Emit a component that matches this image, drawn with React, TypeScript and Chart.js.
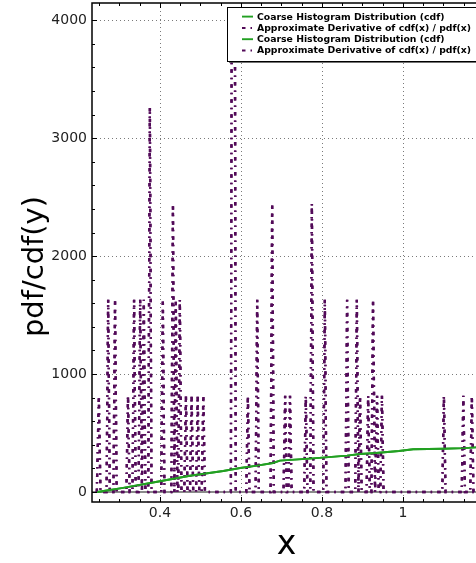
import React, { useEffect, useRef } from 'react';
import { Chart, registerables } from 'chart.js';

Chart.register(...registerables);

// ---- data ----
const derivX = [
  0.244, 0.249, 0.253,
  0.268, 0.272, 0.276,
  0.285, 0.289, 0.293,
  0.317, 0.321, 0.325,
  0.332, 0.336, 0.34,
  0.347, 0.351, 0.3555, 0.36, 0.364,
  0.371, 0.375, 0.379,
  0.403, 0.407, 0.411,
  0.428, 0.432, 0.4355, 0.439, 0.443, 0.445, 0.449, 0.453,
  0.46, 0.464, 0.468,
  0.474, 0.478, 0.482,
  0.489, 0.493, 0.497,
  0.503, 0.507, 0.511,
  0.575, 0.577, 0.585, 0.587,
  0.613, 0.617, 0.621,
  0.636, 0.64, 0.644,
  0.673, 0.677, 0.681,
  0.705, 0.709, 0.713,
  0.717, 0.721, 0.725,
  0.756, 0.76, 0.764,
  0.771, 0.775, 0.779,
  0.803, 0.807, 0.811,
  0.858, 0.862, 0.866,
  0.882, 0.886, 0.89, 0.894, 0.898,
  0.91, 0.914, 0.918,
  0.922, 0.926, 0.931, 0.936, 0.94,
  0.944, 0.948, 0.952,
  1.097, 1.101, 1.105,
  1.145, 1.149, 1.153,
  1.166, 1.17, 1.174,
  1.25,
];
const derivY = [
  0, 815, 0,
  0, 1630, 0,
  0, 1630, 0,
  0, 815, 0,
  0, 1630, 0,
  0, 1630, 0, 1630, 0,
  0, 3260, 0,
  0, 1630, 0,
  0, 2445, 0, 1630, 0, 0, 1630, 0,
  0, 815, 0,
  0, 815, 0,
  0, 815, 0,
  0, 815, 0,
  0, 4075, 4075, 0,
  0, 815, 0,
  0, 1630, 0,
  0, 2445, 0,
  0, 815, 0,
  0, 815, 0,
  0, 815, 0,
  0, 2445, 0,
  0, 1630, 0,
  0, 1630, 0,
  0, 1630, 0, 815, 0,
  0, 815, 0,
  0, 1630, 0, 815, 0,
  0, 815, 0,
  0, 815, 0,
  0, 815, 0,
  0, 815, 0,
  0,
];
const cdfX = [0.245, 0.309, 0.393, 0.474, 0.556, 0.598, 0.64, 0.679, 0.696, 0.778, 0.862, 0.894, 0.933, 0.99, 1.025, 1.099, 1.151, 1.18, 1.25];
const cdfY = [0, 35, 87, 138, 178, 203, 223, 246, 266, 285, 308, 322, 331, 348, 362, 367, 372, 378, 385];

const seriesLabels = [
  'Coarse Histogram Distribution (cdf)',
  'Approximate Derivative of cdf(x) / pdf(x)',
  'Coarse Histogram Distribution (cdf)',
  'Approximate Derivative of cdf(x) / pdf(x)',
];
const xTitle = 'x';
const yTitle = 'pdf/cdf(y)';
const xTickValues = [0.4, 0.6, 0.8, 1];
const yTickValues = [0, 1000, 2000, 3000, 4000];
const xRange = [0.2321, 1.2];
const yRange = [-85, 4147];
const xMinorStep = 0.05;
const yMinorStep = 200;

// ---- style ----
const W = 500;
const H = 563;
const AREA = { left: 92, top: 3, right: 484, bottom: 502 };
const GREEN = '#22a022';
const PURPLE = '#520a58';
const DASHDOT = [3.5, 5, 1.5, 5];
const FONT = 'DejaVu Sans';

const decorPlugin = {
  id: 'decor',
  beforeDatasetsDraw(chart: any) {
    const { ctx, chartArea: a, scales } = chart;
    const xs = scales.x;
    const ys = scales.y;
    ctx.save();
    ctx.strokeStyle = '#7a7a7a';
    ctx.lineWidth = 1;
    ctx.setLineDash([1, 3]);
    xs.ticks.forEach((t: any) => {
      const px = Math.round(xs.getPixelForValue(t.value)) + 0.5;
      ctx.beginPath();
      ctx.moveTo(px, a.top);
      ctx.lineTo(px, a.bottom);
      ctx.stroke();
    });
    ys.ticks.forEach((t: any) => {
      if (t.value === 0) return;
      const py = Math.round(ys.getPixelForValue(t.value)) + 0.5;
      ctx.beginPath();
      ctx.moveTo(a.left, py);
      ctx.lineTo(a.right, py);
      ctx.stroke();
    });
    ctx.setLineDash([]);
    const y0 = ys.getPixelForValue(0);
    ctx.strokeStyle = '#8a8a8a';
    ctx.lineWidth = 2.2;
    ctx.beginPath();
    ctx.moveTo(a.left, y0);
    ctx.lineTo(a.right, y0);
    ctx.stroke();
    ctx.restore();
  },
  afterDatasetsDraw(chart: any) {
    const { ctx, chartArea: a, scales } = chart;
    const xs = scales.x;
    const ys = scales.y;
    ctx.save();
    ctx.strokeStyle = '#000';
    ctx.lineWidth = 1;
    const majorLen = 5;
    const minorLen = 3;
    const xStart = Math.ceil(xRange[0] / xMinorStep);
    for (let k = xStart; k * xMinorStep <= xRange[1] + 1e-9; k++) {
      const v = k * xMinorStep;
      const len = k % 4 === 0 ? majorLen : minorLen;
      const px = Math.round(xs.getPixelForValue(v)) + 0.5;
      ctx.beginPath();
      ctx.moveTo(px, a.bottom);
      ctx.lineTo(px, a.bottom - len);
      ctx.moveTo(px, a.top);
      ctx.lineTo(px, a.top + len);
      ctx.stroke();
    }
    const yStart = Math.ceil(yRange[0] / yMinorStep);
    for (let k = yStart; k * yMinorStep <= yRange[1]; k++) {
      const v = k * yMinorStep;
      const len = k % 5 === 0 ? majorLen : minorLen;
      const py = Math.round(ys.getPixelForValue(v)) + 0.5;
      ctx.beginPath();
      ctx.moveTo(a.left, py);
      ctx.lineTo(a.left + len, py);
      ctx.moveTo(a.right, py);
      ctx.lineTo(a.right - len, py);
      ctx.stroke();
    }
    ctx.lineWidth = 1.5;
    ctx.strokeRect(a.left, a.top, a.right - a.left, a.bottom - a.top);
    ctx.restore();
  },
  afterDraw(chart: any) {
    const { ctx } = chart;
    ctx.save();
    const lx = 227;
    const ly = 7;
    const lw = 262;
    const lh = 54;
    ctx.fillStyle = 'rgba(0,0,0,0.55)';
    ctx.fillRect(lx + 2, ly + 2, lw, lh);
    ctx.fillStyle = '#fff';
    ctx.fillRect(lx, ly, lw, lh);
    ctx.strokeStyle = '#000';
    ctx.lineWidth = 1;
    ctx.strokeRect(lx + 0.5, ly + 0.5, lw, lh);
    ctx.font = `bold 9.3px "${FONT}"`;
    ctx.textBaseline = 'middle';
    ctx.textAlign = 'left';
    chart.data.datasets.forEach((ds: any, i: number) => {
      const cy = 16.6 + i * 11.3;
      ctx.strokeStyle = ds.borderColor;
      ctx.lineWidth = Math.min(ds.borderWidth, 2);
      ctx.setLineDash(ds.borderDash || []);
      ctx.beginPath();
      ctx.moveTo(242, cy);
      ctx.lineTo(253, cy);
      ctx.stroke();
      ctx.setLineDash([]);
      ctx.fillStyle = '#000';
      ctx.fillText(ds.label, 257, cy + 0.5);
    });
    ctx.fillStyle = '#000';
    ctx.textAlign = 'center';
    ctx.textBaseline = 'alphabetic';
    ctx.font = `33px "${FONT}"`;
    ctx.fillText(xTitle, 286.5, 554);
    ctx.translate(43, 266.5);
    ctx.rotate(-Math.PI / 2);
    ctx.font = `29px "${FONT}"`;
    ctx.fillText(yTitle, 0, 0);
    ctx.restore();
  },
};

export default function App() {
  const ref = useRef<HTMLCanvasElement | null>(null);
  useEffect(() => {
    if (!ref.current) return;
    const cdfPts = cdfX.map((x, i) => ({ x, y: cdfY[i] }));
    const derivPts = derivX.map((x, i) => ({ x, y: derivY[i] }));
    const mk = (i: number) =>
      i % 2 === 0
        ? { label: seriesLabels[i], data: cdfPts, borderColor: GREEN, borderWidth: 1.9, pointRadius: 0, fill: false, tension: 0 }
        : { label: seriesLabels[i], data: derivPts, borderColor: PURPLE, borderWidth: 2.4, borderDash: DASHDOT, borderCapStyle: 'butt', pointRadius: 0, fill: false, tension: 0 };
    const chart = new Chart(ref.current, {
      type: 'line',
      data: { datasets: [0, 1, 2, 3].map(mk) as any },
      options: {
        responsive: false,
        animation: false,
        devicePixelRatio: 1,
        layout: { padding: { left: 0, top: AREA.top, right: W - AREA.right, bottom: 0 } },
        plugins: { legend: { display: false }, tooltip: { enabled: false } },
        scales: {
          x: {
            type: 'linear',
            min: xRange[0],
            max: xRange[1],
            grid: { display: false, drawTicks: false },
            border: { display: false },
            afterBuildTicks: (s: any) => {
              s.ticks = xTickValues.map((value) => ({ value }));
            },
            afterFit: (s: any) => {
              s.height = H - AREA.bottom;
              s.paddingLeft = 0;
              s.paddingRight = 0;
            },
            ticks: {
              autoSkip: false,
              maxRotation: 0,
              padding: 3,
              color: '#222',
              font: { family: FONT, size: 14 },
              callback: (v: any) => String(Math.round(Number(v) * 100) / 100),
            },
          },
          y: {
            type: 'linear',
            min: yRange[0],
            max: yRange[1],
            grid: { display: false, drawTicks: false },
            border: { display: false },
            afterBuildTicks: (s: any) => {
              s.ticks = yTickValues.map((value) => ({ value }));
            },
            afterFit: (s: any) => {
              s.width = AREA.left;
              s.paddingTop = 0;
              s.paddingBottom = 0;
            },
            ticks: {
              autoSkip: false,
              padding: 5,
              color: '#222',
              font: { family: FONT, size: 14 },
              callback: (v: any) => String(v),
            },
          },
        },
      } as any,
      plugins: [decorPlugin],
    });
    return () => chart.destroy();
  }, []);
  return (
    <div style={{ position: 'fixed', left: 0, top: 0, width: 476, height: 563, overflow: 'hidden', background: '#fff' }}>
      <canvas ref={ref} width={W} height={H} style={{ display: 'block', width: W, height: H }} />
    </div>
  );
}
